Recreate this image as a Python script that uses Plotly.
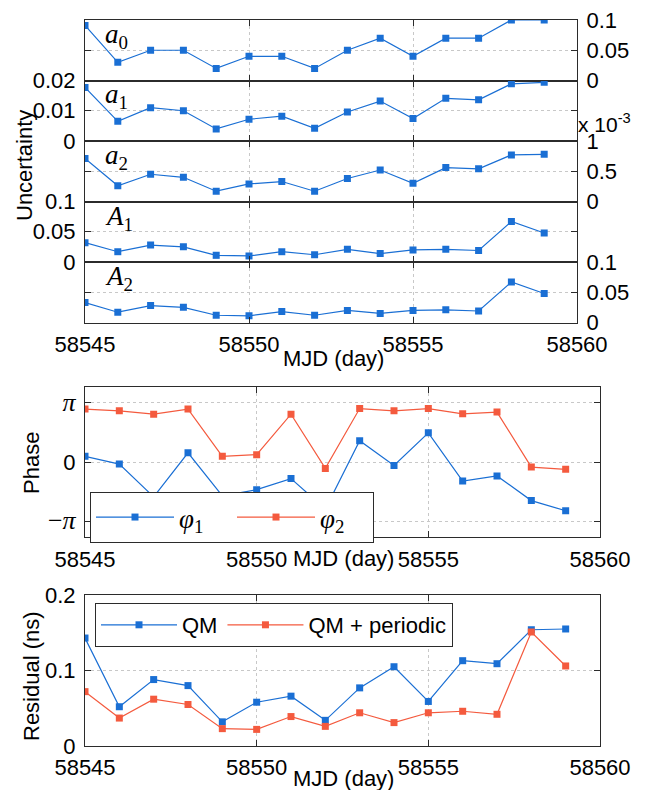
import plotly.graph_objects as go

# ---- data -------------------------------------------------------------
mjd = list(range(58545, 58560))

a0 = [0.091, 0.030, 0.050, 0.050, 0.020, 0.040, 0.040, 0.020, 0.050, 0.070,
      0.040, 0.070, 0.070, 0.100, 0.100]
a1 = [0.0177, 0.0065, 0.0110, 0.0100, 0.0040, 0.0072, 0.0082, 0.0042, 0.0096,
      0.0132, 0.0074, 0.0141, 0.0136, 0.0189, 0.0194]
a2_e3 = [0.71, 0.26, 0.45, 0.40, 0.17, 0.29, 0.33, 0.17, 0.38, 0.52,
         0.30, 0.56, 0.54, 0.77, 0.78]          # in units of 1e-3
A1 = [0.032, 0.017, 0.028, 0.025, 0.011, 0.010, 0.017, 0.012, 0.021, 0.014,
      0.020, 0.021, 0.019, 0.067, 0.048]
A2 = [0.033, 0.017, 0.028, 0.025, 0.012, 0.011, 0.018, 0.012, 0.020, 0.015,
      0.020, 0.021, 0.019, 0.067, 0.048]

phi1 = [0.30, -0.11, -1.85, 0.49, -1.80, -1.47, -0.88, -2.50, 1.13, -0.18,
        1.55, -1.01, -0.74, -2.05, -2.59]
phi2 = [2.81, 2.72, 2.54, 2.81, 0.30, 0.39, 2.54, -0.34, 2.84, 2.72,
        2.84, 2.56, 2.65, -0.27, -0.39]

res_qm = [0.143, 0.052, 0.088, 0.080, 0.032, 0.058, 0.066, 0.034, 0.077, 0.105,
          0.059, 0.113, 0.109, 0.154, 0.155]
res_qm_periodic = [0.072, 0.037, 0.062, 0.055, 0.023, 0.022, 0.039, 0.026, 0.044,
                   0.031, 0.044, 0.046, 0.042, 0.151, 0.106]

x_ticks = [58545, 58550, 58555, 58560]
x_tick_text = ["58545", "58550", "58555", "58560"]

# ---- style ------------------------------------------------------------
W, H = 646, 790
BLUE = "#1a6fd4"
RED = "#f45a3e"
AXIS = "#2b2b2b"
GRID = "#c8c8c8"
SANS = "Liberation Sans"
SERIF = "Liberation Serif"
FS = 22


def fx(px):
    return px / W


def fy(py):
    return 1 - py / H


top_left, top_right = 85, 577
low_left, low_right = 85, 600
top_edges = [20, 80.5, 141, 201.5, 262, 322.5]

fig = go.Figure()


def line(x, y, color, idx, name=None, legend=None, show=False):
    fig.add_trace(go.Scatter(
        x=x, y=y, mode="lines+markers", name=name,
        line=dict(color=color, width=1.2),
        marker=dict(symbol="square", size=7, color=color),
        xaxis="x" if idx == 1 else f"x{idx}",
        yaxis="y" if idx == 1 else f"y{idx}",
        showlegend=show, legend=legend,
    ))


def xaxis(idx, left, right, labels):
    return dict(
        domain=[fx(left), fx(right)], range=[58545, 58560], automargin=False,
        anchor="y" if idx == 1 else f"y{idx}",
        tickvals=x_ticks, ticktext=x_tick_text, showticklabels=labels,
        ticks="inside", ticklen=6, tickcolor=AXIS, mirror="ticks",
        showline=True, linecolor=AXIS, linewidth=1,
        showgrid=True, gridcolor=GRID, griddash="dot", gridwidth=1,
        zeroline=False, tickfont=dict(family=SANS, size=FS, color="black"),
        ticklabelstandoff=2,
    )


def yaxis(idx, top, bottom, rng, vals, text, side):
    return dict(
        domain=[fy(bottom), fy(top)], range=rng, automargin=False,
        anchor="x" if idx == 1 else f"x{idx}",
        tickvals=vals, ticktext=text, side=side,
        ticks="inside", ticklen=6, tickcolor=AXIS, mirror="ticks",
        showline=True, linecolor=AXIS, linewidth=1,
        showgrid=True, gridcolor=GRID, griddash="dot", gridwidth=1,
        zeroline=False, tickfont=dict(family=SANS, size=FS, color="black"),
        ticklabelstandoff=4,
    )


# ---- stacked uncertainty panels --------------------------------------
panels = [
    (a0, [0, 0.1], [0, 0.05, 0.1], ["0", "0.05", "0.1"], "right", "<i>a</i><sub>0</sub>"),
    (a1, [0, 0.02], [0, 0.01, 0.02], ["0", "0.01", "0.02"], "left", "<i>a</i><sub>1</sub>"),
    (a2_e3, [0, 1], [0, 0.5, 1], ["0", "0.5", "1"], "right", "<i>a</i><sub>2</sub>"),
    (A1, [0, 0.1], [0, 0.05, 0.1], ["0", "0.05", "0.1"], "left", "<i>A</i><sub>1</sub>"),
    (A2, [0, 0.1], [0, 0.05, 0.1], ["0", "0.05", "0.1"], "right", "<i>A</i><sub>2</sub>"),
]

layout_axes = {}
annotations = []
for i, (vals, rng, tv, tt, side, label) in enumerate(panels):
    idx = i + 1
    top, bottom = top_edges[i], top_edges[i + 1]
    line(mjd, vals, BLUE, idx)
    kx = "xaxis" if idx == 1 else f"xaxis{idx}"
    ky = "yaxis" if idx == 1 else f"yaxis{idx}"
    layout_axes[kx] = xaxis(idx, top_left, top_right, labels=(idx == 5))
    if idx > 1:
        layout_axes[kx]["matches"] = "x"
    layout_axes[ky] = yaxis(idx, top, bottom, rng, tv, tt, side)
    annotations.append(dict(
        text=label, x=fx(103), y=fy(top + 16), xref="paper", yref="paper",
        xanchor="left", yanchor="middle", showarrow=False,
        font=dict(family=SERIF, size=27, color="black"),
    ))

# scale factor of the a2 axis
annotations.append(dict(
    text="x 10<sup>-3</sup>", x=fx(576), y=fy(123), xref="paper", yref="paper",
    xanchor="left", yanchor="middle", showarrow=False,
    font=dict(family=SANS, size=21, color="black"),
))

# ---- phase panel -------------------------------------------------------
line(mjd, phi1, BLUE, 6, name="<i>φ</i><sub>1</sub>", legend="legend2", show=True)
line(mjd, phi2, RED, 6, name="<i>φ</i><sub>2</sub>", legend="legend2", show=True)
layout_axes["xaxis6"] = xaxis(6, low_left, low_right, labels=True)
pi = 3.141592653589793
pi_style = "font-family:Liberation Serif;font-size:26px"
layout_axes["yaxis6"] = yaxis(
    6, 386.7, 537.3, [-4, 4], [-pi, 0, pi],
    [f'<span style="{pi_style}">−<i>π</i></span>', "0",
     f'<span style="{pi_style}"><i>π</i></span>'], "left")

# ---- residual panel ----------------------------------------------------
line(mjd, res_qm, BLUE, 7, name="QM", legend="legend", show=True)
line(mjd, res_qm_periodic, RED, 7, name="QM + periodic", legend="legend", show=True)
layout_axes["xaxis7"] = xaxis(7, low_left, low_right, labels=True)
layout_axes["yaxis7"] = yaxis(7, 595, 746, [0, 0.2], [0, 0.1, 0.2],
                              ["0", "0.1", "0.2"], "left")

# ---- axis titles -------------------------------------------------------
def title(text, x, y, angle=0):
    annotations.append(dict(
        text=text, x=fx(x), y=fy(y), xref="paper", yref="paper",
        xanchor="center", yanchor="middle", showarrow=False, textangle=angle,
        font=dict(family=SANS, size=FS, color="black"),
    ))


title("Uncertainty", 24, 166, -90)
title("MJD (day)", 333, 358)
title("Phase", 31, 463, -90)
title("MJD (day)", 343, 558)
title("Residual (ns)", 31, 676, -90)
title("MJD (day)", 343, 778)

fig.update_layout(
    width=W, height=H, margin=dict(l=0, r=0, t=0, b=0, autoexpand=False),
    paper_bgcolor="white", plot_bgcolor="white",
    annotations=annotations,
    legend=dict(
        x=fx(95), y=fy(603), xanchor="left", yanchor="top",
        orientation="h", bgcolor="white", bordercolor=AXIS, borderwidth=1,
        font=dict(family=SANS, size=FS, color="black"),
        itemwidth=76,
    ),
    legend2=dict(
        x=fx(90), y=fy(492), xanchor="left", yanchor="top",
        orientation="h", bgcolor="white", bordercolor=AXIS, borderwidth=1,
        font=dict(family=SERIF, size=27, color="black"),
        itemwidth=78, entrywidth=48,
    ),
    **layout_axes,
)

fig.write_html("out.html")
